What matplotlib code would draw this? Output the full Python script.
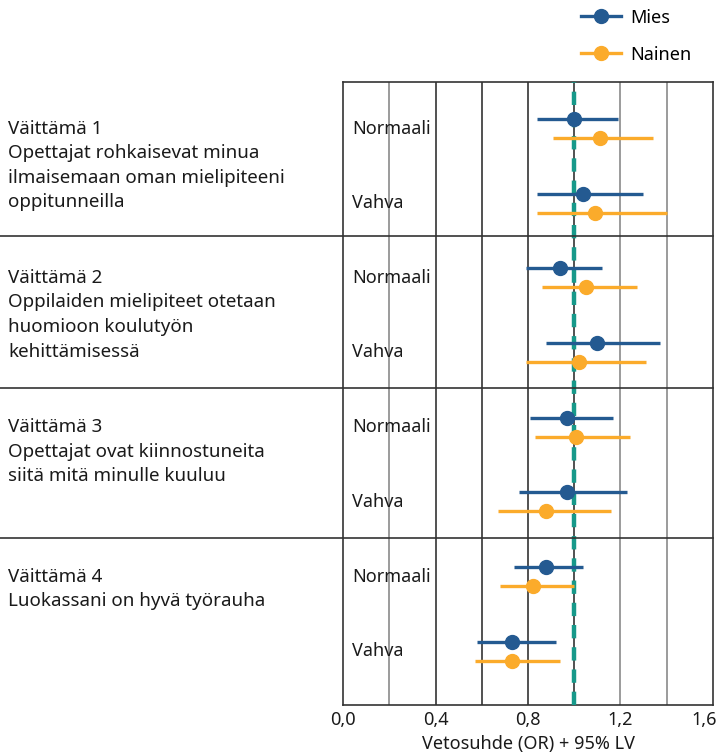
import matplotlib
matplotlib.use("Agg")
import matplotlib.pyplot as plt
import matplotlib.transforms as mtransforms
from matplotlib.lines import Line2D
import numpy as np

plt.rcParams["font.family"] = ["Noto Sans", "DejaVu Sans"]

# data
statements = [
  "Väittämä 1\nOpettajat rohkaisevat minua\nilmaisemaan oman mielipiteeni\noppitunneilla",
  "Väittämä 2\nOppilaiden mielipiteet otetaan\nhuomioon koulutyön\nkehittämisessä",
  "Väittämä 3\nOpettajat ovat kiinnostuneita\nsiitä mitä minulle kuuluu",
  "Väittämä 4\nLuokassani on hyvä työrauha",
]
levels = ["Normaali", "Vahva"]
groups = ["Mies", "Nainen"]

# order per statement: Normaali, Vahva
mies_or = [1.00, 1.04, 0.94, 1.10, 0.97, 0.97, 0.88, 0.73]
mies_lo = [0.84, 0.84, 0.79, 0.88, 0.81, 0.76, 0.74, 0.58]
mies_hi = [1.19, 1.30, 1.12, 1.37, 1.17, 1.23, 1.04, 0.92]
nainen_or = [1.11, 1.09, 1.05, 1.02, 1.01, 0.88, 0.82, 0.73]
nainen_lo = [0.91, 0.84, 0.86, 0.79, 0.83, 0.67, 0.68, 0.57]
nainen_hi = [1.34, 1.40, 1.27, 1.31, 1.24, 1.16, 1.00, 0.94]

xticks = [0.0, 0.4, 0.8, 1.2, 1.6]
xticklabels = ["0,0", "0,4", "0,8", "1,2", "1,6"]

blue = "#245a91"
orange = "#fbab2b"
teal = "#17998a"
txt = "#1a1a1a"
fs = 13

W, H = 718, 755
fig = plt.figure(figsize=(W / 100, H / 100), dpi=100)
ax = fig.add_axes([343.3 / W, 1 - 705 / H, (712.7 - 343.3) / W, (705 - 82) / H])

# layout (pixel-like units downwards)
stmt_step = 149.3
level_step = 74.5
sex_step = 19.0
n = len(statements)
base = np.arange(n) * stmt_step
y_m = np.array([[b, b + level_step] for b in base]).ravel()
y_n = y_m + sex_step

ax.set_xlim(0, 1.6)
ax.set_ylim(660.7 - 119 + 44, -37)

# vertical grid lines
grid_cols = {0.2: "#8a8a8a", 0.4: "#333333", 0.6: "#333333", 0.8: "#333333",
             1.0: "#333333", 1.2: "#8a8a8a", 1.4: "#8a8a8a"}
for gx, c in grid_cols.items():
  ax.axvline(gx, color=c, lw=1.2, zorder=1)

ax.axvline(1.0, color=teal, lw=3.2, ls=(0, (3.0, 2.0)), zorder=3)

ax.errorbar(mies_or, y_m, xerr=[np.array(mies_or) - mies_lo, np.array(mies_hi) - mies_or],
            fmt="o", color=blue, ms=10, elinewidth=2.4, capsize=0, zorder=5)
ax.errorbar(nainen_or, y_n, xerr=[np.array(nainen_or) - nainen_lo, np.array(nainen_hi) - nainen_or],
            fmt="o", color=orange, ms=10, elinewidth=2.4, capsize=0, zorder=5)

# separators across the whole figure width
trans_fd = mtransforms.blended_transform_factory(fig.transFigure, ax.transData)
seps = [236 - 119, 388 - 119, 538 - 119]
for s in seps:
  ax.plot([0, 712.7 / W], [s, s], color="#333333", lw=1.2, transform=trans_fd,
          clip_on=False, zorder=4)

# labels
trans_ad = mtransforms.blended_transform_factory(ax.transAxes, ax.transData)
for i in range(n):
  for j, lev in enumerate(levels):
    yy = (y_m[2 * i + j] + y_n[2 * i + j]) / 2
    ax.text(0.024, yy, lev, transform=trans_ad, ha="left", va="center",
            fontsize=fs, color=txt, zorder=6)
  off = mtransforms.offset_copy(trans_fd, fig=fig, x=0, y=9, units="dots")
  fig.text(8 / W, (y_m[2 * i] + y_n[2 * i]) / 2, statements[i], transform=off,
           ha="left", va="top", fontsize=13.5, color=txt, linespacing=1.47)

ax.set_yticks([])
ax.set_xticks(xticks)
ax.set_xticklabels(xticklabels, fontsize=fs, color=txt)
ax.tick_params(axis="x", length=0, pad=4)
last = ax.get_xticklabels()[-1]
last.set_horizontalalignment("right")
last.set_transform(last.get_transform() + mtransforms.ScaledTranslation(4 / 100, 0, fig.dpi_scale_trans))
ax.set_xlabel("Vetosuhde (OR) + 95% LV", fontsize=fs, color=txt, labelpad=5)
for sp in ax.spines.values():
  sp.set_color("#333333")
  sp.set_linewidth(1.2)

handles = [Line2D([], [], color=blue, marker="o", ms=10, lw=2.4),
           Line2D([], [], color=orange, marker="o", ms=10, lw=2.4)]
fig.legend(handles, groups, loc="upper left", bbox_to_anchor=(565 / W, 1.01),
           frameon=False, fontsize=fs, handlelength=2.2, labelspacing=1.05,
           handletextpad=0.5)

fig.savefig("out.png", dpi=100)
